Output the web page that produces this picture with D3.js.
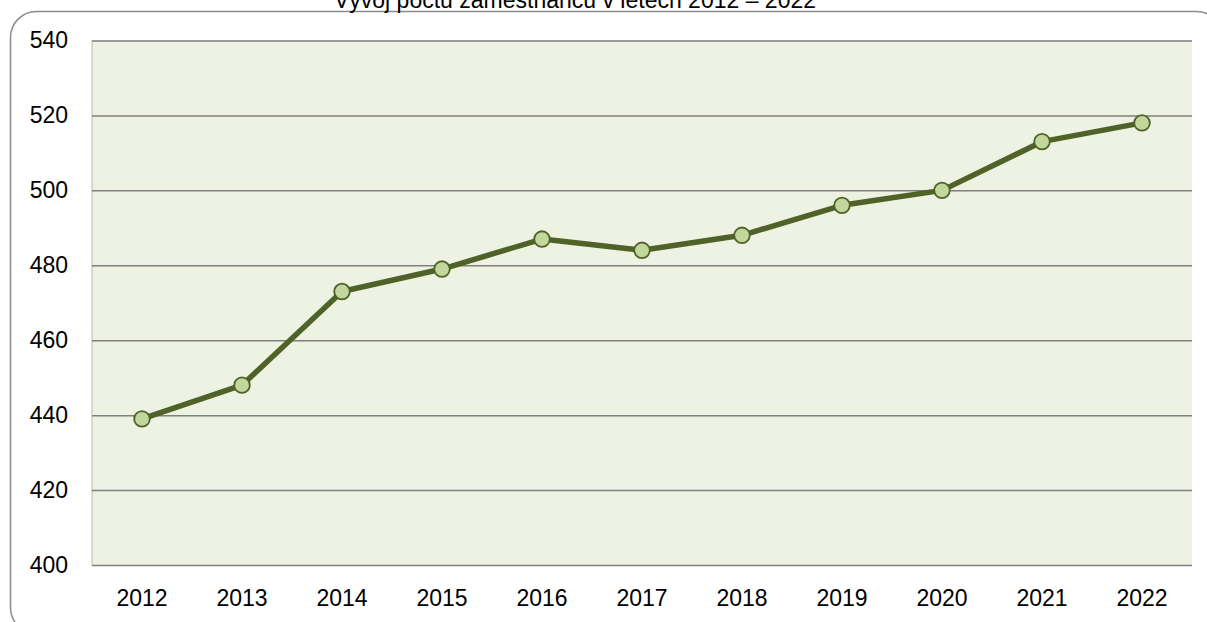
<!DOCTYPE html>
<html>

<head>
    <title>Vývoj počtu zaměstnanců</title>
    <script src="https://cdn.jsdelivr.net/npm/d3@7"></script>
    <style>
        body {
            margin: 0;
            background: #ffffff;
        }

        .axis text {
            font-family: "Liberation Sans", Arial, sans-serif;
            font-size: 23px;
            fill: #000000;
        }
    </style>
</head>

<body>
    <div id="visDiv"></div>
</body>
<script>
    /* Data */
    var years = ["2012", "2013", "2014", "2015", "2016", "2017", "2018", "2019", "2020", "2021", "2022"];
    var employees = [439, 448, 473, 479, 487, 484, 488, 496, 500, 513, 518];
    var yTicks = [400, 420, 440, 460, 480, 500, 520, 540];
    var title = "Vývoj počtu zaměstnanců v letech 2012 – 2022";

    var data = years.map(function (y, i) { return { year: y, value: employees[i] }; });

    /* Layout constants */
    var W = 1207, H = 622;
    var margin = { top: 40.5, right: 15, bottom: 57, left: 92 },
        width = W - margin.left - margin.right,
        height = H - margin.top - margin.bottom;

    var svg = d3.select("#visDiv")
        .append("svg")
        .attr("width", W)
        .attr("height", H);

    // outer rounded frame (runs past the window edges)
    svg.append("rect")
        .attr("x", 10.5)
        .attr("y", 11.5)
        .attr("width", 1212)
        .attr("height", 622)
        .attr("rx", 26)
        .attr("ry", 26)
        .attr("fill", "none")
        .attr("stroke", "#8c8c8c")
        .attr("stroke-width", 1.5);

    // title (cut at the top edge, as in the original)
    svg.append("text")
        .attr("x", 575)
        .attr("y", 8)
        .attr("text-anchor", "middle")
        .style("font-family", "'Liberation Sans', Arial, sans-serif")
        .style("font-size", "23px")
        .style("fill", "#000")
        .text(title);

    var g = svg.append("g")
        .attr("transform", "translate(" + margin.left + "," + margin.top + ")");

    /* Scales */
    var x = d3.scaleBand()
        .domain(years)
        .range([0, width]);
    var y = d3.scaleLinear()
        .domain([400, 540])
        .range([height, 0]);

    // plot area
    g.append("rect")
        .attr("width", width)
        .attr("height", height)
        .attr("fill", "#eef2e2");

    // plot area left edge
    g.append("line")
        .attr("x1", 0).attr("x2", 0)
        .attr("y1", 0).attr("y2", height)
        .attr("stroke", "#b8b8b8")
        .attr("stroke-width", 1);

    // gridlines
    g.append("g")
        .attr("class", "grid")
        .call(d3.axisLeft(y).tickValues(yTicks).tickSize(-width).tickFormat(""))
        .call(function (s) { s.select(".domain").remove(); })
        .selectAll("line")
        .attr("stroke", "#7f7f7f")
        .attr("stroke-width", 1.5);

    /* Axes */
    g.append("g")
        .attr("class", "axis")
        .call(d3.axisLeft(y).tickValues(yTicks).tickSize(0).tickPadding(24))
        .call(function (s) { s.select(".domain").remove(); });

    g.append("g")
        .attr("class", "axis")
        .attr("transform", "translate(0," + height + ")")
        .call(d3.axisBottom(x).tickSize(0).tickPadding(25))
        .call(function (s) { s.select(".domain").remove(); });

    /* Line */
    g.append("path")
        .datum(data)
        .attr("fill", "none")
        .attr("stroke", "#4f6228")
        .attr("stroke-width", 5.5)
        .attr("stroke-linejoin", "round")
        .attr("d", d3.line()
            .x(function (d) { return x(d.year) + x.bandwidth() / 2; })
            .y(function (d) { return y(d.value); }));

    /* Markers */
    g.selectAll("circle.pt")
        .data(data)
        .enter()
        .append("circle")
        .attr("class", "pt")
        .attr("cx", function (d) { return x(d.year) + x.bandwidth() / 2; })
        .attr("cy", function (d) { return y(d.value); })
        .attr("r", 7.8)
        .attr("fill", "#c3d69b")
        .attr("stroke", "#4f6228")
        .attr("stroke-width", 1.8);
</script>

</html>
